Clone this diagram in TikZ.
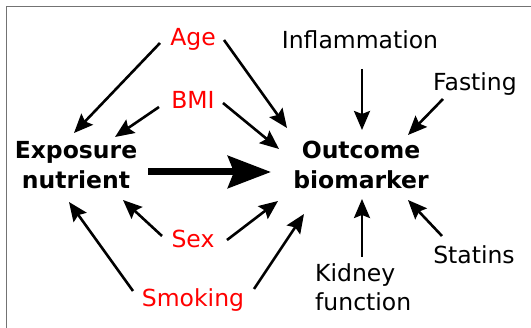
\documentclass[tikz,border=0pt]{standalone}
\usepackage{fontspec}
\setmainfont{DejaVu Sans}
\usetikzlibrary{arrows.meta,calc}
\begin{document}
\begin{tikzpicture}[x=1pt,y=-1pt,
  lbl/.style={font=\fontsize{23.5}{29.5}\selectfont, inner sep=0pt, anchor=base},
  conf/.style={lbl, text=red},
  main/.style={lbl, font=\fontsize{23.5}{30}\selectfont\bfseries, align=center},
  arr/.style={line width=2.6pt, -{Stealth[length=19pt,width=16pt,inset=3pt]}},
  bigarr/.style={line width=7pt, -{Stealth[length=43pt,width=32pt,inset=6pt]}}
]
\useasboundingbox (0,0) rectangle (531,328);
\draw[color=black!55, line width=1pt] (6,328) -- (6,7) -- (531,7);

\node[conf] (age) at (193,46) {Age};
\node[conf] (bmi) at (193,109) {BMI};
\node[conf] (sex) at (193,248) {Sex};
\node[conf] (smk) at (193,307) {Smoking};
\node[lbl] (infl) at (360,49) {Inflammation};
\node[lbl] (fast) at (475,91) {Fasting};
\node[lbl] (stat) at (474,264) {Statins};
\node[lbl, anchor=base west, align=left] (kid) at (315,311) {Kidney\\function};
\node[main] (exp) at (76,189) {Exposure\\nutrient};
\node[main] (out) at (361,189) {Outcome\\biomarker};

\draw[arr] ($(age.base)+(-33,-3)$) -- ($(exp.base)+(-2,-56)$);
\draw[arr] ($(age.base)+(31,-6)$) -- ($(out.base)+(-74,-61)$);
\draw[arr] ($(bmi.base)+(-34,-2)$) -- ($(exp.base)+(39,-52)$);
\draw[arr] ($(bmi.base)+(30,-6)$) -- ($(out.base)+(-82,-40)$);
\draw[bigarr] ($(exp.base)+(72,-17)$) -- ($(out.base)+(-90,-17)$);
\draw[arr] ($(infl.base)+(2,20)$) -- ($(out.base)+(1,-59)$);
\draw[arr] ($(fast.base)+(-32,8)$) -- ($(out.base)+(47,-54)$);
\draw[arr] ($(sex.base)+(-31,-12)$) -- ($(exp.base)+(47,11)$);
\draw[arr] ($(sex.base)+(34,-8)$) -- ($(out.base)+(-83,12)$);
\draw[arr] ($(smk.base)+(-60,-16)$) -- ($(exp.base)+(-7,13)$);
\draw[arr] ($(smk.base)+(61,-18)$) -- ($(out.base)+(-57,25)$);
\draw[arr] ($(kid.base west)+(47,-54)$) -- ($(out.base)+(1,10)$);
\draw[arr] ($(stat.base)+(-32,-28)$) -- ($(out.base)+(47,11)$);
\end{tikzpicture}
\end{document}
